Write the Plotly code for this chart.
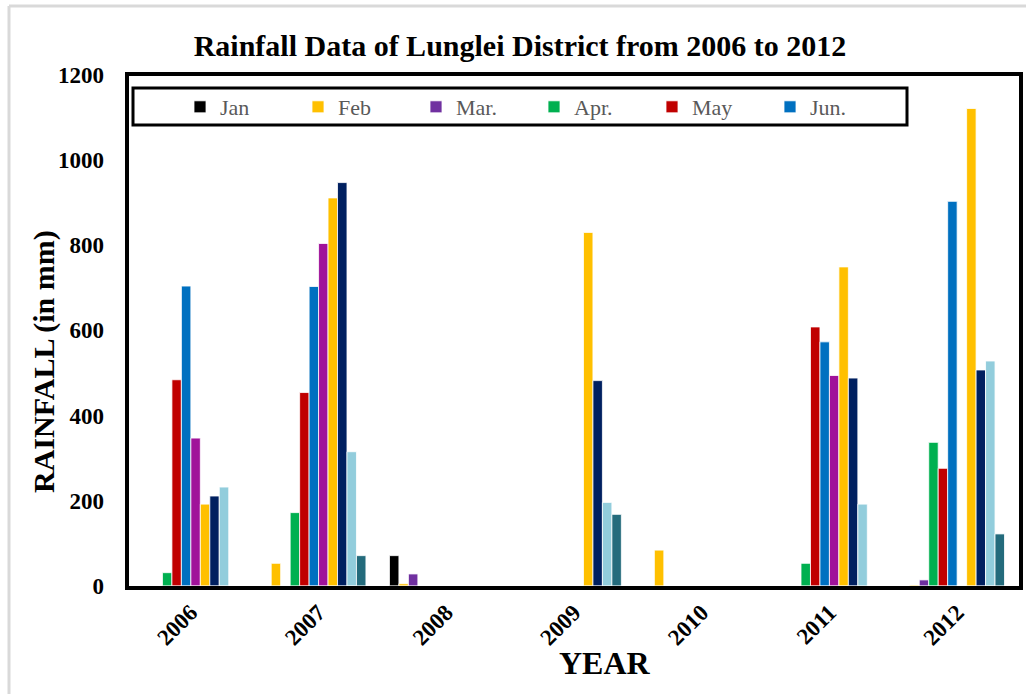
import plotly.graph_objects as go

years = ["2006", "2007", "2008", "2009", "2010", "2011", "2012"]
months = ["Jan", "Feb", "Mar.", "Apr.", "May", "Jun.",
          "Jul.", "Aug.", "Sep.", "Oct.", "Nov.", "Dec."]

# monthly rainfall (mm) for each year
jan = [0, 0, 71, 0, 0, 0, 0]
feb = [0, 53, 5, 0, 84, 0, 2]
mar = [0, 0, 28, 0, 0, 0, 14]
apr = [31, 172, 0, 0, 0, 53, 337]
may = [484, 454, 0, 0, 0, 608, 276]
jun = [704, 703, 0, 0, 0, 573, 903]
jul = [347, 804, 0, 0, 0, 494, 0]
aug = [192, 911, 0, 830, 0, 749, 1121]
sep = [211, 947, 0, 482, 0, 488, 507]
oct_ = [232, 315, 0, 196, 0, 192, 528]
nov = [0, 71, 0, 168, 0, 0, 122]
dec = [0, 0, 0, 0, 0, 0, 0]

series = [jan, feb, mar, apr, may, jun, jul, aug, sep, oct_, nov, dec]
colors = ["#000000", "#FFC000", "#7030A0", "#00B050", "#C00000", "#0070C0",
          "#A0129A", "#FFC000", "#002060", "#92CDDC", "#246B7C", "#7F7F7F"]
legend_months = 6

SERIF = "Liberation Serif"

fig = go.Figure()
for i, (name, vals, col) in enumerate(zip(months, series, colors)):
    fig.add_trace(go.Bar(
        x=years, y=vals, name=name,
        marker=dict(color=col, line=dict(color="white", width=0.8)),
        showlegend=i < legend_months,
    ))

W, H = 1026, 694
L, R, T, B = 127, 5, 74, 106
pw, ph = W - L - R, H - T - B


def px(xp):
    return (xp - L) / pw


def py(yp):
    return 1 - (yp - T) / ph


shapes = [
    # plot area frame
    dict(type="rect", xref="paper", yref="paper", x0=0, x1=1, y0=0, y1=1,
         line=dict(color="black", width=4), layer="above"),
    # legend box
    dict(type="rect", xref="paper", yref="paper",
         x0=px(133), x1=px(907), y0=py(125), y1=py(88),
         line=dict(color="black", width=3), layer="above"),
    # outer chart border
    dict(type="line", xref="paper", yref="paper",
         x0=px(9), x1=px(9), y0=py(700), y1=py(6),
         line=dict(color="#D9D9D9", width=3)),
    dict(type="line", xref="paper", yref="paper",
         x0=px(9), x1=px(1030), y0=py(6), y1=py(6),
         line=dict(color="#D9D9D9", width=3)),
]

fig.update_layout(
    width=W, height=H,
    margin=dict(l=L, r=R, t=T, b=B),
    paper_bgcolor="white", plot_bgcolor="white",
    barmode="group", bargap=0.11, bargroupgap=0.0,
    font=dict(family=SERIF, color="black"),
    title=dict(text="<b>Rainfall Data of Lunglei District from 2006 to 2012</b>",
               font=dict(family=SERIF, size=30, color="black"),
               x=px(520), xref="paper", xanchor="center",
               y=1 - 45 / H, yanchor="middle"),
    xaxis=dict(showgrid=False, tickangle=-45, ticks="",
               tickfont=dict(family=SERIF, size=23, color="black", weight="bold"),
               showline=True, linecolor="#A6A6A6", linewidth=2),
    yaxis=dict(range=[-5, 1202], tickvals=[0, 200, 400, 600, 800, 1000, 1200],
               showgrid=False, zeroline=False, ticks="", ticklabelstandoff=22,
               tickfont=dict(family=SERIF, size=23, color="black", weight="bold")),
    legend=dict(orientation="h", x=px(180), xanchor="left",
                y=py(107), yanchor="middle",
                font=dict(family=SERIF, size=22, color="#595959"),
                entrywidth=73, entrywidthmode="pixels",
                bgcolor="rgba(0,0,0,0)", borderwidth=0),
    shapes=shapes,
    annotations=[
        dict(text="<b>RAINFALL (in mm)</b>", xref="paper", yref="paper",
             x=px(44), y=py(362), xanchor="center", yanchor="middle",
             textangle=-90, showarrow=False,
             font=dict(family=SERIF, size=30, color="black")),
        dict(text="<b>YEAR</b>", xref="paper", yref="paper",
             x=px(605), y=py(663), xanchor="center", yanchor="middle",
             showarrow=False,
             font=dict(family=SERIF, size=32, color="black")),
    ],
)

fig.write_html("out.html")
